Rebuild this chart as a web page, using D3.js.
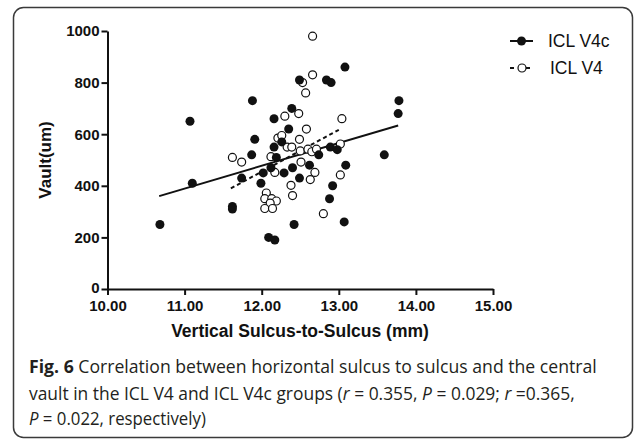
<!DOCTYPE html>
<html>
<head>
<meta charset="utf-8">
<script src="https://cdn.jsdelivr.net/npm/d3@7"></script>
<style>
  body { margin: 0; background: #fff; }
  svg { display: block; }
</style>
</head>
<body>
<svg id="chart" width="635" height="440"></svg>
<script>
// ICL V4c group (filled circles): sulcus-to-sulcus (mm), vault (um)
const v4cX = [10.68, 11.07, 11.10, 11.62, 11.62, 11.74, 11.88, 11.87, 11.91, 11.99,
  12.02, 12.09, 12.12, 12.16, 12.16, 12.17, 12.19, 12.26, 12.29, 12.35,
  12.39, 12.40, 12.42, 12.49, 12.49, 12.62, 12.74, 12.84, 12.90, 12.89,
  12.92, 12.88, 12.98, 13.08, 13.09, 13.07, 13.59, 13.78, 13.77];
const v4cY = [250, 650, 410, 320, 310, 430, 730, 520, 580, 410,
  450, 200, 470, 660, 550, 190, 510, 570, 450, 620,
  700, 470, 250, 430, 810, 480, 520, 810, 800, 550,
  400, 350, 540, 860, 480, 260, 520, 730, 680];

// ICL V4 group (open circles)
const v4X = [12.66, 12.66, 12.53, 12.57, 12.30, 12.48, 12.58, 13.04, 12.49, 12.21,
  12.26, 11.62, 11.74, 12.12, 12.33, 12.39, 12.50, 12.60, 12.65, 12.71,
  13.02, 12.51, 12.17, 12.69, 13.02, 12.38, 12.63, 12.40, 12.06, 12.04,
  12.13, 12.19, 12.11, 12.04, 12.14, 12.80];
const v4Y = [980, 830, 800, 760, 670, 680, 620, 660, 580, 585,
  595, 510, 492, 513, 550, 550, 535, 542, 532, 542,
  562, 492, 452, 452, 442, 402, 424, 362, 372, 350,
  350, 341, 333, 312, 312, 292];

// regression lines
const fitV4cX = [10.67, 13.77];
const fitV4cY = [360, 634];
const fitV4X = [11.60, 13.00];
const fitV4Y = [390, 617];

const xTicks = [10, 11, 12, 13, 14, 15];
const yTicks = [0, 200, 400, 600, 800, 1000];

const svg = d3.select("#chart");
const axisFont = "'Liberation Sans', Arial, sans-serif";
const capFont = "'Open Sans', 'Noto Sans', sans-serif";

// figure frame
svg.append("rect")
  .attr("x", 13.5).attr("y", 7.5)
  .attr("width", 619).attr("height", 430)
  .attr("rx", 10)
  .attr("fill", "none")
  .attr("stroke", "#3a3a3a")
  .attr("stroke-width", 1.5);

const x = d3.scaleLinear().domain([10, 15]).range([107.5, 493]);
const y = d3.scaleLinear().domain([0, 1000]).range([289, 31]);

// axes
const xAxis = svg.append("g")
  .attr("transform", "translate(0," + y(0) + ")")
  .call(d3.axisBottom(x).tickValues(xTicks).tickFormat(d3.format(".2f"))
    .tickSize(6).tickSizeOuter(0).tickPadding(5));
const yAxis = svg.append("g")
  .attr("transform", "translate(" + x(10) + ",0)")
  .call(d3.axisLeft(y).tickValues(yTicks).tickFormat(d3.format("d"))
    .tickSize(6).tickSizeOuter(0).tickPadding(2));

[xAxis, yAxis].forEach(function (g) {
  g.select(".domain").attr("stroke", "#111").attr("stroke-width", 2);
  g.selectAll(".tick line").attr("stroke", "#111").attr("stroke-width", 2);
  g.selectAll(".tick text")
    .attr("fill", "#111")
    .style("font-family", axisFont)
    .style("font-weight", "bold")
    .style("font-size", "15px");
});
// keep the "0" label clear of the "10.00" label below it
yAxis.selectAll(".tick text").filter(d => d === 0).attr("dy", "0.2em");

// axis titles
svg.append("text")
  .attr("x", 300).attr("y", 337)
  .attr("text-anchor", "middle")
  .style("font-family", axisFont)
  .style("font-weight", "bold")
  .style("font-size", "17.5px")
  .attr("fill", "#111")
  .text("Vertical Sulcus-to-Sulcus (mm)");

svg.append("text")
  .attr("transform", "translate(51,160) rotate(-90)")
  .attr("text-anchor", "middle")
  .style("font-family", axisFont)
  .style("font-weight", "bold")
  .style("font-size", "17px")
  .attr("fill", "#111")
  .text("Vault(um)");

// fit lines
const line = d3.line().x(d => x(d[0])).y(d => y(d[1]));
svg.append("path")
  .datum(d3.zip(fitV4cX, fitV4cY))
  .attr("d", line)
  .attr("fill", "none")
  .attr("stroke", "#111")
  .attr("stroke-width", 2);
svg.append("path")
  .datum(d3.zip(fitV4X, fitV4Y))
  .attr("d", line)
  .attr("fill", "none")
  .attr("stroke", "#111")
  .attr("stroke-width", 2)
  .attr("stroke-dasharray", "4,3");

// points
svg.append("g").selectAll("circle")
  .data(d3.zip(v4X, v4Y))
  .join("circle")
  .attr("cx", d => x(d[0]))
  .attr("cy", d => y(d[1]))
  .attr("r", 4)
  .attr("fill", "#fff")
  .attr("stroke", "#111")
  .attr("stroke-width", 1.2);

svg.append("g").selectAll("circle")
  .data(d3.zip(v4cX, v4cY))
  .join("circle")
  .attr("cx", d => x(d[0]))
  .attr("cy", d => y(d[1]))
  .attr("r", 4.5)
  .attr("fill", "#111");

// legend
const legend = svg.append("g");
legend.append("line")
  .attr("x1", 510).attr("x2", 533).attr("y1", 41).attr("y2", 41)
  .attr("stroke", "#111").attr("stroke-width", 2);
legend.append("circle")
  .attr("cx", 521.5).attr("cy", 41).attr("r", 4.5).attr("fill", "#111");
legend.append("text")
  .attr("x", 548).attr("y", 47)
  .style("font-family", axisFont).style("font-size", "17.5px")
  .attr("fill", "#111")
  .text("ICL V4c");

legend.append("line")
  .attr("x1", 510).attr("x2", 534).attr("y1", 68).attr("y2", 68)
  .attr("stroke", "#111").attr("stroke-width", 2)
  .attr("stroke-dasharray", "4,4");
legend.append("circle")
  .attr("cx", 522).attr("cy", 68).attr("r", 4)
  .attr("fill", "#fff").attr("stroke", "#111").attr("stroke-width", 1.2);
legend.append("text")
  .attr("x", 550).attr("y", 74)
  .style("font-family", axisFont).style("font-size", "17.5px")
  .attr("fill", "#111")
  .text("ICL V4");

// caption: condensed look made by squeezing each line to its width in the figure
const capLines = [
  { y: 373, len: 568, parts: [["Fig. 6", "b"], [" Correlation between horizontal sulcus to sulcus and the central", ""]] },
  { y: 400, len: 546, parts: [["vault in the ICL V4 and ICL V4c groups (", ""], ["r", "i"], [" = 0.355, ", ""], ["P", "i"], [" = 0.029; ", ""], ["r", "i"], [" =0.365,", ""]] },
  { y: 425, len: 177, parts: [["P", "i"], [" = 0.022, respectively)", ""]] }
];
capLines.forEach(function (ln) {
  const g = svg.append("g");
  const t = g.append("text")
    .attr("x", 0).attr("y", 0)
    .style("font-family", capFont)
    .style("font-size", "18px")
    .attr("fill", "#231f20");
  ln.parts.forEach(function (p) {
    t.append("tspan")
      .style("font-weight", p[1] == "b" ? "bold" : "normal")
      .style("font-style", p[1] == "i" ? "italic" : "normal")
      .text(p[0]);
  });
  const w = t.node().getComputedTextLength();
  g.attr("transform", "translate(29," + ln.y + ") scale(" + (ln.len / w) + ",1)");
});
</script>
</body>
</html>
